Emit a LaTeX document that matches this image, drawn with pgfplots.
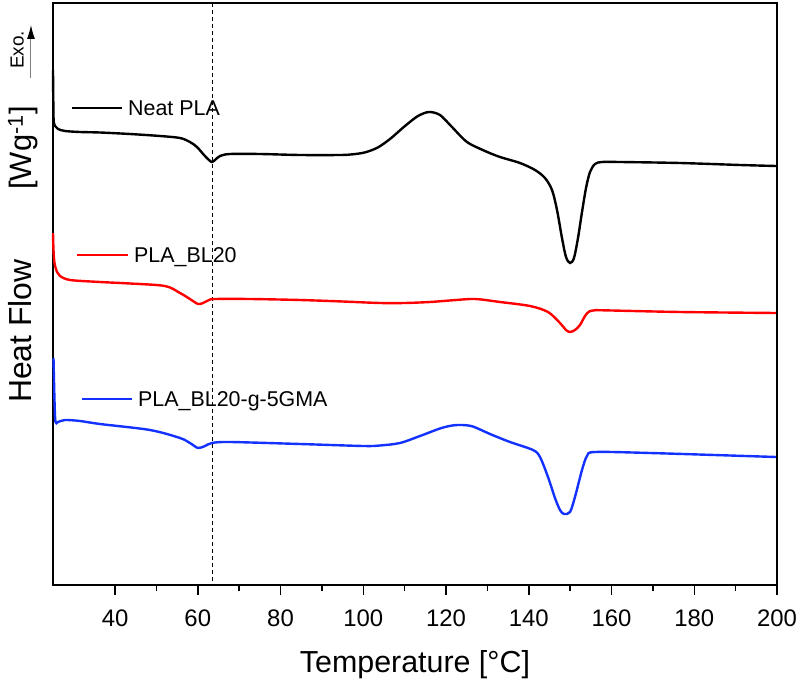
\documentclass[border=0pt]{standalone}
\usepackage{fontspec}
\setmainfont{Liberation Sans}
\usepackage{pgfplots}
\pgfplotsset{compat=1.18}
\usetikzlibrary{arrows.meta}
\definecolor{myblue}{RGB}{20,50,255}
\definecolor{myred}{RGB}{255,0,0}
\begin{document}
\begin{tikzpicture}
\begin{axis}[
 scale only axis, width=724bp, height=582bp,
 xmin=25, xmax=200, ymin=3, ymax=585, y dir=reverse,
 axis line style={line width=1.8bp},
 xtick={40,60,...,200}, minor x tick num=1,
 xtick pos=left, ytick=\empty,
 tick align=outside,
 major tick length=10bp, minor tick length=6bp,
 every tick/.style={black, line width=1.5bp},
 /pgf/number format/assume math mode=true,
 tick label style={font=\fontsize{24}{28}\selectfont},
 xticklabel style={yshift=-11bp},
 clip=false,
]
\coordinate (bl) at (axis cs:12.19,679);
\coordinate (tr) at (axis cs:205.08,0);
\draw[line width=0.8bp, dash pattern=on 4bp off 3bp] (axis cs:63.5,3) -- (axis cs:63.5,585);

\addplot[black, line width=2.4bp, smooth, tension=0.5] coordinates {
(25.0,70) (25.07,100) (25.15,120) (25.48,126) (26.21,129) (27.9,131) (31.5,132) (36.36,132.5)
(43.6,134) (50.86,136) (55.7,138) (58.1,142) (59.8,147) (61.5,155) (62.7,160) (63.43,162)
(64.16,160) (65.37,156) (67.78,154) (75.04,154) (84.7,155) (94.37,155) (97.5,154.3) (100.5,152.3)
(103.5,147.5) (106.46,139) (110.08,126) (113.23,116) (115.89,112) (118.54,115) (121.44,127) (125.07,142)
(129.42,151) (133.05,157) (137.88,163) (141.51,170) (143.92,178) (145.62,190) (146.83,210)
(148.03,238) (149.0,257) (149.97,263) (150.93,258) (151.9,238) (152.87,212) (153.84,188)
(154.8,172) (156.01,164) (157.7,162) (162.05,162) (176.56,163) (191.06,165) (199.76,166)
};

\addplot[myred, line width=2.4bp, smooth, tension=0.5] coordinates {
(25.0,233) (25.12,250) (25.36,263) (25.97,272) (26.69,276) (29.11,280) (36.36,282) (43.61,283.5)
(52.07,286) (55.7,293) (58.1,299) (60.05,304) (61.26,303) (62.71,300) (64.16,299) (72.62,299)
(84.7,300) (95,301.5) (104.04,303) (110,303) (116.13,302) (121.5,300.3) (127.0,299) (133.05,302) (140.3,306) (144.65,312)
(147.55,323) (149.0,330) (149.97,332) (151.17,330) (152.38,325) (153.6,316) (154.6,311.5) (156.0,310.3) (158,310.3)
(176.56,312) (199.76,313)
};

\addplot[myblue, line width=2.4bp, smooth, tension=0.5] coordinates {
(25.12,358) (25.36,400) (25.6,422) (26.21,422) (27.9,420) (31.53,421) (36.36,424) (48.45,430)
(55.7,438) (58.1,443) (60.05,448) (61.74,446) (63.43,443) (67.78,442) (84.7,444) (100,446) (104.04,445.5)
(108.87,443) (113.71,436) (118.54,428.5) (121.5,425.5) (123.86,425) (126.5,426.5) (130.63,434) (135.46,442)
(141.02,450) (142.71,457) (144.65,477) (146.34,498) (147.55,510) (148.52,514) (149.97,512)
(151.17,497) (152.87,470) (154.08,456) (156.01,452) (169.3,453) (199.76,457)
};

% legend entries
\draw[black, line width=2.4bp] (axis cs:29.59,108) -- (axis cs:41.68,108);
\node[anchor=base west, inner sep=0pt, font=\fontsize{21.5}{24}\selectfont] at (axis cs:43.13,115.5) {Neat PLA};
\draw[myred, line width=2.4bp] (axis cs:30.8,255) -- (axis cs:43.13,255);
\node[anchor=base west, inner sep=0pt, font=\fontsize{21.5}{24}\selectfont] at (axis cs:44.58,262.5) {PLA\_BL20};
\draw[myblue, line width=2.4bp] (axis cs:32.01,399) -- (axis cs:44.1,399);
\node[anchor=base west, inner sep=0pt, font=\fontsize{21.5}{24}\selectfont] at (axis cs:45.55,406.5) {PLA\_BL20-g-5GMA};

% axis labels
\node[anchor=base, inner sep=0pt, font=\fontsize{30.5}{34}\selectfont] at (axis cs:112.5,672) {Temperature [°C]};
\node[anchor=base, rotate=90, inner sep=0pt, font=\fontsize{32}{36}\selectfont] at (axis cs:19.92,331) {Heat Flow};
\node[anchor=base, rotate=90, inner sep=0pt, font=\fontsize{31}{36}\selectfont] at (axis cs:19.92,148) {[Wg\textsuperscript{-1}]};
\node[anchor=base, rotate=90, inner sep=0pt, font=\fontsize{19}{22}\selectfont] at (axis cs:17.9,50) {Exo.};
\draw[gray, line width=1bp, -{Latex[length=14bp,width=8bp,black]}] (axis cs:19.68,78) -- (axis cs:19.68,25);
\end{axis}
\pgfresetboundingbox
\path[use as bounding box] (bl) rectangle (tr);
\end{tikzpicture}
\end{document}
